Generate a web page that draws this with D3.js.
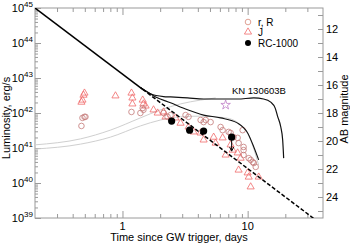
<!DOCTYPE html>
<html><head><meta charset="utf-8">
<script src="https://cdn.jsdelivr.net/npm/d3@7"></script>
<style>body{margin:0;background:#fff}svg{display:block;font-family:Arial,"Liberation Sans",sans-serif}</style>
</head><body><svg id="c" width="350" height="243"></svg>
<script>
// ---- data (time in days, log10 luminosity in erg/s) ----
const xMajor = [1, 10];
const yMajorExp = [39, 40, 41, 42, 43, 44, 45];
const magLabels = [12, 14, 16, 18, 20, 22, 24];

const jT = [0.479,0.488,0.497,0.47,0.879,1.18,1.20,1.20,1.45,1.47,1.53,1.77,1.91,2.13,2.21,2.65,2.91,3.37,3.70,4.21,4.45,5.35,5.55,6.31,6.67,7.31,7.59,8.32,8.47,8.79,10.0,10.2,10.57,12.25];
const jLogL = [42.37,42.51,42.57,42.31,42.49,42.57,42.43,42.26,42.37,42.26,42.2,42.09,42.0,42.03,41.89,41.86,41.71,41.6,41.46,41.43,41.23,41.31,41.14,41.29,40.8,41.09,40.94,40.86,40.37,40.71,40.29,40.17,39.89,40.17];

const rT = [0.479,0.497,0.506,0.47,1.18,1.39,1.45,1.47,2.13,2.29,2.42,3.19,3.37,4.21,4.45,4.62,5.06,6.08,6.31,7.05,7.31,7.72,8.32,9.12,8.47,9.28,9.28,9.28,10.2,10.57,10.97,11.2,11.6];
const rLogL = [41.86,41.89,41.89,41.63,42.03,42.0,42.14,42.09,42.0,41.89,41.94,41.94,41.89,41.8,41.74,41.8,41.74,41.6,41.51,41.46,41.43,41.31,41.29,41.51,41.14,41.03,40.94,40.8,40.71,40.66,40.6,40.57,40.46];

const rcT = [2.47, 3.44, 4.45, 7.45];
const rcLogL = [41.77, 41.51, 41.486, 41.31];
const rcUpperLimit = [false, false, false, true];

const starT = [6.67];
const starLogL = [42.23];

// power law L = L0 (t/t0)^-alpha
const plT = [0.2, 1.45, 40];
const plLogL = [45, 45 - 2.7 * Math.log10(1.45 / 0.2), 45 - 2.7 * Math.log10(40 / 0.2)];

const kn1T = [1.40,1.675,2.13,2.42,3.31,4.45,6.08,8.32,11.2,13.4,15.3,16.6,17.4,18.4,19.05,19.4];
const kn1LogL = [42.72,42.55,42.47,42.46,42.43,42.4,42.4,42.4,42.43,42.4,42.31,42.14,41.89,41.6,41.23,40.71];
const kn2T = [1.40,1.84,2.42,3.31,4.45,6.08,8.32,10.0,11.2,12.25];
const kn2LogL = [42.72,42.46,42.29,42.09,41.94,41.86,41.71,41.43,41.03,40.66];
const greyAT = [0.2,0.461,0.80,1.39,2.01,2.91,4.21,5.55];
const greyALogL = [41.09,41.26,41.51,41.86,42.09,42.26,42.37,42.43];
const greyBT = [0.2,0.461,0.80,1.39,2.01,2.91,4.21,6.67,8.79,10.2,11.6,12.25];
const greyBLogL = [40.97,41.11,41.31,41.63,41.8,41.89,41.91,41.86,41.66,41.37,40.8,40.51];

// ---- chart ----
const svg = d3.select("#c");
const L = 35, R = 323, T = 8, B = 218;
const x = d3.scaleLog().domain([0.2, 40]).range([L, R]);
const y = d3.scaleLog().domain([1e39, 1e45]).range([B, T]);
const ym = d3.scaleLinear().domain([10.5, 25.5]).range([T, B]);
const P = (ts, ls) => ts.map((t, i) => [x(t), y(Math.pow(10, ls[i]))]);
const axisCol = "#9a9a9a";

// minor tick values
const xMinor = [];
[0.1, 1, 10].forEach(d => { for (let k = 2; k <= 9; k++) { const v = d * k; if (v > 0.2 && v < 40) xMinor.push(v); } });
const yMinor = [];
for (let e = 39; e < 45; e++) for (let k = 2; k <= 9; k++) yMinor.push(k * Math.pow(10, e));

function styleAxis(g) { g.select(".domain").remove(); g.selectAll("line").attr("stroke", axisCol); g.selectAll("text").remove(); }

svg.append("g").attr("transform", `translate(0,${B})`).call(d3.axisBottom(x).tickValues(xMajor).tickSize(-7)).call(styleAxis);
svg.append("g").attr("transform", `translate(0,${B})`).call(d3.axisBottom(x).tickValues(xMinor).tickSize(-4)).call(styleAxis);
svg.append("g").attr("transform", `translate(0,${T})`).call(d3.axisTop(x).tickValues(xMajor).tickSize(-7)).call(styleAxis);
svg.append("g").attr("transform", `translate(0,${T})`).call(d3.axisTop(x).tickValues(xMinor).tickSize(-4)).call(styleAxis);
svg.append("g").attr("transform", `translate(${L},0)`).call(d3.axisLeft(y).tickValues(yMajorExp.map(e => Math.pow(10, e))).tickSize(-6)).call(styleAxis);
svg.append("g").attr("transform", `translate(${L},0)`).call(d3.axisLeft(y).tickValues(yMinor).tickSize(-3)).call(styleAxis);
svg.append("g").attr("transform", `translate(${R},0)`).call(d3.axisRight(ym).tickValues(d3.range(11, 26)).tickSize(-5)).call(styleAxis);

svg.append("rect").attr("x", L).attr("y", T).attr("width", R - L).attr("height", B - T)
  .attr("fill", "none").attr("stroke", axisCol).attr("stroke-width", 1);

// x labels
svg.selectAll(".xl").data(xMajor).join("text").attr("x", d => x(d)).attr("y", 230)
  .attr("text-anchor", "middle").attr("font-size", 11).text(d => d);
// y labels with superscripts
yMajorExp.forEach(e => {
  const t = svg.append("text").attr("x", 33).attr("y", y(Math.pow(10, e)) + 4).attr("text-anchor", "end").attr("font-size", 11);
  t.append("tspan").text("10");
  t.append("tspan").attr("font-size", 8).attr("dy", -5).text(e);
});
// right labels
svg.selectAll(".ml").data(magLabels).join("text").attr("x", 326).attr("y", d => ym(d) + 4)
  .attr("font-size", 11).text(d => d);

// titles
svg.append("text").attr("x", 179).attr("y", 241).attr("text-anchor", "middle").attr("font-size", 11).text("Time since GW trigger, days");
svg.append("text").attr("transform", "translate(10,118) rotate(-90)").attr("text-anchor", "middle").attr("font-size", 11).text("Luminosity, erg/s");
svg.append("text").attr("transform", "translate(348,109) rotate(-90)").attr("text-anchor", "middle").attr("font-size", 11).text("AB magnitude");

const clip = svg.append("defs").append("clipPath").attr("id", "cp");
clip.append("rect").attr("x", L).attr("y", T).attr("width", R - L).attr("height", B - T);
const plot = svg.append("g").attr("clip-path", "url(#cp)");

const line = d3.line();
const curve = d3.line().curve(d3.curveMonotoneX);

plot.append("path").attr("d", curve(P(greyAT, greyALogL))).attr("fill", "none").attr("stroke", "#cfcfcf").attr("stroke-width", 1);
plot.append("path").attr("d", curve(P(greyBT, greyBLogL))).attr("fill", "none").attr("stroke", "#cfcfcf").attr("stroke-width", 1);

// markers
const triPath = d3.symbol().type(d3.symbolTriangle).size(22);
plot.selectAll(".tri").data(jT.map((t, i) => [x(t), y(Math.pow(10, jLogL[i]))])).join("path")
  .attr("d", triPath).attr("transform", d => `translate(${d[0]},${d[1]})`)
  .attr("fill", "none").attr("stroke", "#f06a6a").attr("stroke-width", 0.8);
plot.selectAll(".cir").data(rT.map((t, i) => [x(t), y(Math.pow(10, rLogL[i]))])).join("circle")
  .attr("cx", d => d[0]).attr("cy", d => d[1]).attr("r", 2.8)
  .attr("fill", "none").attr("stroke", "#c47a78").attr("stroke-width", 0.8);
plot.selectAll(".star").data(starT.map((t, i) => [x(t), y(Math.pow(10, starLogL[i]))])).join("path")
  .attr("d", d3.symbol().type(d3.symbolStar).size(28)).attr("transform", d => `translate(${d[0]},${d[1]})`)
  .attr("fill", "none").attr("stroke", "#c080c8").attr("stroke-width", 0.8);

// model lines
plot.append("path").attr("d", curve(P(kn1T, kn1LogL))).attr("fill", "none").attr("stroke", "#111").attr("stroke-width", 1.2);
plot.append("path").attr("d", curve(P(kn2T, kn2LogL))).attr("fill", "none").attr("stroke", "#111").attr("stroke-width", 1.1);
plot.append("path").attr("d", line(P(plT.slice(0, 2), plLogL.slice(0, 2)))).attr("fill", "none").attr("stroke", "#000").attr("stroke-width", 1.5);
plot.append("path").attr("d", line(P(plT.slice(1), plLogL.slice(1)))).attr("fill", "none").attr("stroke", "#000").attr("stroke-width", 1.5).attr("stroke-dasharray", "4,2");

// RC-1000
const rc = rcT.map((t, i) => [x(t), y(Math.pow(10, rcLogL[i])), rcUpperLimit[i]]);
rc.filter(d => d[2]).forEach(d => {
  plot.append("line").attr("x1", d[0]).attr("x2", d[0]).attr("y1", d[1]).attr("y2", d[1] + 13).attr("stroke", "#000").attr("stroke-width", 1);
  plot.append("path").attr("d", `M${d[0] - 2},${d[1] + 10} L${d[0]},${d[1] + 14} L${d[0] + 2},${d[1] + 10}`).attr("fill", "none").attr("stroke", "#000").attr("stroke-width", 1);
});
plot.selectAll(".rc").data(rc).join("circle").attr("cx", d => d[0]).attr("cy", d => d[1]).attr("r", 3.6).attr("fill", "#000");

// KN label
svg.append("text").attr("x", 232).attr("y", 94).attr("font-size", 9.5).text("KN 130603B");

// legend
const lg = svg.append("g");
lg.append("circle").attr("cx", 248).attr("cy", 22).attr("r", 2.8).attr("fill", "none").attr("stroke", "#d88a7a").attr("stroke-width", 0.8);
lg.append("path").attr("d", triPath).attr("transform", "translate(248,32)").attr("fill", "none").attr("stroke", "#f06a6a").attr("stroke-width", 0.8);
lg.append("circle").attr("cx", 248).attr("cy", 43).attr("r", 3).attr("fill", "#000");
[["r, R", 22], ["J", 32], ["RC-1000", 43]].forEach(([s, yy]) => {
  lg.append("text").attr("x", 258).attr("y", yy + 3.5).attr("font-size", 10).text(s);
});
</script></body></html>
